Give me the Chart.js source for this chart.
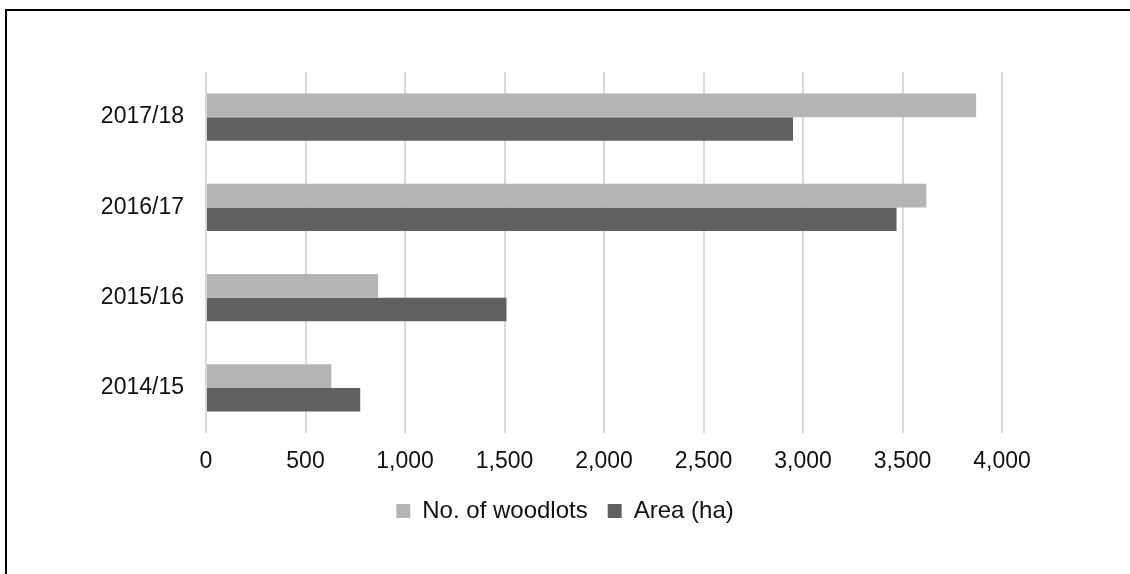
<!DOCTYPE html>
<html>
<head>
<meta charset="utf-8">
<script src="https://cdn.jsdelivr.net/npm/chart.js@4/dist/chart.umd.min.js"></script>
<style>
  html, body { margin: 0; padding: 0; background: #fff; }
  body { width: 1130px; height: 574px; position: relative; overflow: hidden; }
  #frame { position: absolute; left: 5px; top: 9px; right: -4px; bottom: -4px;
           border-left: 2px solid #000; border-top: 2px solid #000; }
  #wrap { position: absolute; left: 0; top: 0; width: 1130px; height: 574px; }
</style>
</head>
<body>
<div id="frame"></div>
<div id="wrap"><canvas id="c" width="1130" height="574"></canvas></div>
<script>
// Woodlot registrations and planted area by season
const seasons = ['2014/15', '2015/16', '2016/17', '2017/18'];
const woodlots = [630, 865, 3620, 3870];
const areaHa = [775, 1510, 3470, 2950];
const xTicks = [0, 500, 1000, 1500, 2000, 2500, 3000, 3500, 4000];

const FONT = "'Liberation Sans', Arial, sans-serif";
const TEXT = '#111';

new Chart(document.getElementById('c'), {
  type: 'bar',
  data: {
    labels: seasons,
    datasets: [
      { label: 'No. of woodlots', data: woodlots, backgroundColor: '#b4b4b4' },
      { label: 'Area (ha)', data: areaHa, backgroundColor: '#606060' }
    ]
  },
  options: {
    indexAxis: 'y',
    responsive: false,
    animation: false,
    devicePixelRatio: 1,
    layout: { padding: { left: 0, right: 0, top: 72, bottom: 41 } },
    datasets: { bar: { categoryPercentage: 0.526, barPercentage: 1.0 } },
    scales: {
      x: {
        min: 0, max: 4000,
        afterBuildTicks: s => { s.ticks = xTicks.map(v => ({ value: v })); },
        grid: { color: '#d9d9d9', lineWidth: 2, drawTicks: false },
        border: { display: false },
        ticks: {
          padding: 15,
          color: TEXT,
          font: { family: FONT, size: 23 },
          callback: v => v.toLocaleString('en-US')
        },
        afterFit: s => { s.height = 46; }
      },
      y: {
        reverse: true,
        grid: { display: false, drawTicks: false },
        border: { display: false },
        ticks: { padding: 22, color: TEXT, font: { family: FONT, size: 23 } },
        afterFit: s => { s.width = 206; }
      },
      // empty right-hand margin so the plot ends at 4,000 while the legend stays centred on the page
      margin: {
        type: 'linear',
        position: 'right',
        grid: { display: false },
        border: { display: false },
        ticks: { display: false },
        afterFit: s => { s.width = 128; }
      }
    },
    plugins: {
      legend: {
        position: 'bottom',
        labels: {
          boxWidth: 14, boxHeight: 14, padding: 20,
          color: TEXT,
          font: { family: FONT, size: 24 }
        }
      },
      tooltip: { enabled: false }
    }
  }
});
</script>
</body>
</html>
